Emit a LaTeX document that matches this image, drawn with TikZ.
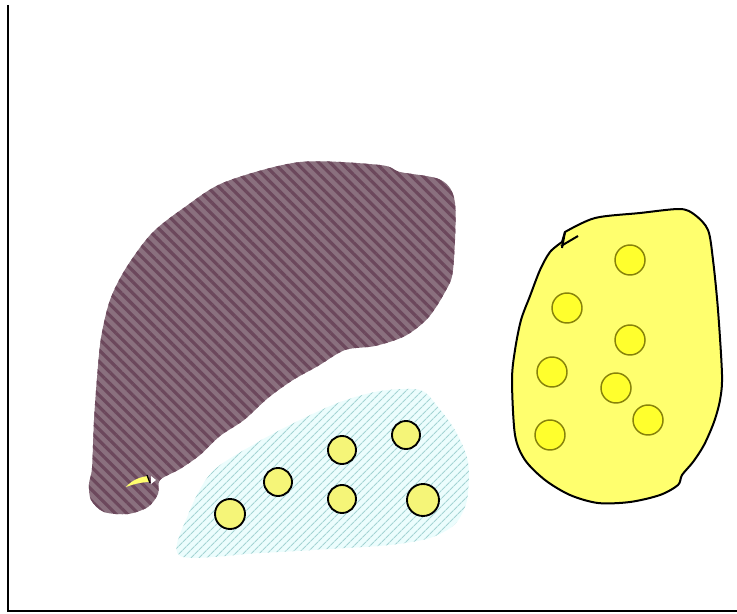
\documentclass[tikz,border=0pt]{standalone}
\usepackage{tikz}
\usetikzlibrary{patterns.meta}
\definecolor{mauve}{RGB}{138,112,126}
\definecolor{stripe}{RGB}{108,72,92}
\definecolor{iceblue}{RGB}{236,253,253}
\definecolor{teal dash}{RGB}{165,212,212}
\definecolor{lemon}{RGB}{255,255,110}
\definecolor{pale}{RGB}{245,245,120}
\definecolor{bright}{RGB}{255,255,45}
\definecolor{olive}{RGB}{135,130,10}

\begin{document}
\begin{tikzpicture}[x=0.75pt,y=-0.75pt,
  axis/.style={line width=1.5pt},
  seed/.style={draw=black,line width=1.4pt,fill=pale},
  pip/.style={draw=olive,line width=1.1pt,fill=bright},
  rind/.style={draw=black,line width=1.5pt,fill=lemon}]
\useasboundingbox (0,0) rectangle (737,613);
% axes
\draw[axis] (8,5) -- (8,611) -- (737,611);
% brown region
\fill[mauve] plot[smooth cycle,tension=0.5] coordinates {
  (185,207) (225,182) (300,162) (380,165) (400,172) (441,180) (455,203)
  (453,270) (445,292) (428,318) (405,336) (375,346) (345,350) (318,366)
  (293,380) (268,398) (244,420) (220,436) (200,455) (180,469) (160,480)
  (158,494) (148,507) (128,514) (104,512) (91,500) (89,484) (92,468)
  (94,420) (97,378) (101,338) (110,300) (126,268) (152,233)};
\path[pattern={Lines[angle=-45,distance=6pt,line width=2.4pt]},pattern color=stripe]
  plot[smooth cycle,tension=0.5] coordinates {
  (185,207) (225,182) (300,162) (380,165) (400,172) (441,180) (455,203)
  (453,270) (445,292) (428,318) (405,336) (375,346) (345,350) (318,366)
  (293,380) (268,398) (244,420) (220,436) (200,455) (180,469) (160,480)
  (158,494) (148,507) (128,514) (104,512) (91,500) (89,484) (92,468)
  (94,420) (97,378) (101,338) (110,300) (126,268) (152,233)};
% small sliver
\fill[lemon] (126,487) .. controls (132,480) and (140,477) .. (148,476)
  -- (150,482) .. controls (142,482) and (134,484) .. cycle;
\draw[line width=1pt] (147,475) -- (150,483);
\fill[white] (151,476) -- (156,480) -- (151,484) -- cycle;
% cyan region
\fill[iceblue] plot[smooth cycle,tension=0.5] coordinates {
  (180,556) (188,515) (212,472) (258,442) (300,420) (340,402) (380,391)
  (420,390) (438,407) (456,432) (468,462) (467,500) (455,524) (430,538)
  (390,545) (330,549) (260,553)};
\path[pattern={Lines[angle=45,distance=4pt,line width=0.9pt]},pattern color=teal dash]
  plot[smooth cycle,tension=0.5] coordinates {
  (180,556) (188,515) (212,472) (258,442) (300,420) (340,402) (380,391)
  (420,390) (438,407) (456,432) (468,462) (467,500) (455,524) (430,538)
  (390,545) (330,549) (260,553)};
\foreach \x/\y/\r in {230/514/15,278/482/14,342/450/14,406/435/14,342/499/14,423/500/16}
  \draw[seed] (\x,\y) circle (\r);
% yellow region
\draw[rind] plot[smooth,tension=0.5] coordinates {
  (565,232) (595,218) (640,213) (680,209) (695,215) (708,230) (713,260)
  (718,310) (722,375) (720,400) (714,422) (704,445) (693,462) (682,475)
  (678,485) (660,495) (630,502) (598,503) (570,495) (545,480) (525,460)
  (515,435) (512,380) (515,350) (521,320) (530,296) (540,270) (550,252)
  (562,242)} -- cycle;
\draw[line width=1.5pt] (562,248) -- (565,232);
\draw[line width=1.5pt] (561,246) -- (578,236);
\foreach \x/\y in {630/260,567/308,630/340,552/372,616/388,648/420,550/435}
  \draw[pip] (\x,\y) circle (15);
\end{tikzpicture}
\end{document}
